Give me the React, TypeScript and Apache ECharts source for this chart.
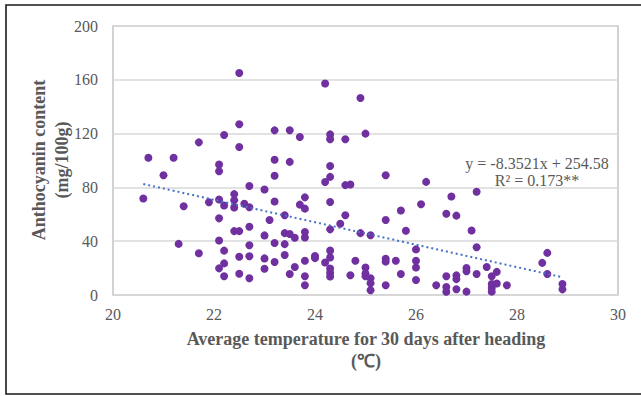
import React, { useEffect, useRef } from "react";
import * as echarts from "echarts";

const temperature: number[] = [
  20.6, 20.7, 21.0, 21.2, 21.3, 21.4, 21.7, 21.7, 21.9,
  22.1, 22.1, 22.1, 22.1, 22.1, 22.1, 22.2, 22.2, 22.2, 22.2, 22.2,
  22.4, 22.4, 22.4, 22.4, 22.5, 22.5, 22.5, 22.5, 22.5, 22.5, 22.6,
  22.7, 22.7, 22.7, 22.7, 22.7, 22.7,
  23.0, 23.0, 23.0, 23.0, 23.1, 23.2, 23.2, 23.2, 23.2, 23.2, 23.2,
  23.4, 23.4, 23.4, 23.4, 23.5, 23.5, 23.5, 23.5, 23.6, 23.6, 23.7, 23.7,
  23.8, 23.8, 23.8, 23.8, 23.8, 23.8, 23.8, 24.0, 24.0,
  24.2, 24.2, 24.2, 24.3, 24.3, 24.3, 24.3, 24.3, 24.3, 24.3, 24.3, 24.3, 24.3, 24.3,
  24.5, 24.6, 24.6, 24.6, 24.7, 24.7, 24.8, 24.9, 24.9,
  25.0, 25.0, 25.0, 25.0, 25.1, 25.1, 25.1, 25.1,
  25.4, 25.4, 25.4, 25.4, 25.4, 25.6, 25.7, 25.7, 25.8,
  26.0, 26.0, 26.0, 26.0, 26.1, 26.2, 26.4, 26.6, 26.6, 26.6, 26.6, 26.7,
  26.8, 26.8, 26.8, 26.8, 27.0, 27.0, 27.0, 27.1, 27.2, 27.2, 27.2, 27.4,
  27.5, 27.5, 27.5, 27.5, 27.6, 27.6, 27.8, 28.5, 28.6, 28.6, 28.9, 28.9,
];

const anthocyanin: number[] = [
  71.7, 102, 89, 102, 38, 66, 113.5, 31, 69,
  97, 92, 71, 57, 40.5, 19.8, 119, 66.5, 33, 23.5, 14,
  75, 70.5, 65, 47.5, 165, 127, 110, 47.5, 28.5, 15.8, 67.8,
  81, 65.2, 50.8, 37, 28.8, 12.4,
  78.5, 44.3, 27.2, 19.5, 55.8, 122.4, 100.5, 88.7, 69.5, 38.7, 24.5,
  59.3, 46, 37.8, 29.8, 122.5, 99, 45.3, 15.6, 42.6, 20.8, 117.5, 67.2,
  72.6, 64.2, 46.8, 42.8, 25.5, 13.9, 7.3, 29, 27.4,
  157.3, 84, 24.2, 119.4, 115.8, 95.9, 87.8, 69.1, 48.8, 33.1, 27.9, 19.7, 16.6, 13.7,
  53, 115.8, 81.7, 59.3, 82.1, 14.7, 25.5, 146.5, 46,
  120, 20.5, 16, 14, 44.4, 12.4, 8.8, 3.5,
  89, 55.8, 27, 24.8, 7.3, 25.5, 62.8, 15.6, 47.8,
  33.9, 25.5, 20.5, 11.2, 67.5, 84.1, 7.3, 60.4, 13.9, 6, 2.4, 73.2,
  59, 14.6, 11.8, 4.3, 20.1, 17.6, 2.5, 47.9, 76.8, 35.5, 15.6, 20.8,
  13.9, 8.2, 5.2, 2.5, 17.2, 8.6, 7.2, 23.9, 31.3, 15.6, 8.2, 4.2,
];

// Trendline end points (y = -8.3521x + 254.58)
const trendX: number[] = [20.6, 28.9];
const trendY: number[] = [82.5, 13.2];

const xTicks = { min: 20, max: 30, interval: 2 };
const yTicks = { min: 0, max: 200, interval: 40 };

const equationLines: string[] = ["y = -8.3521x + 254.58", "R² = 0.173**"];
const xTitleLines: string[] = ["Average temperature for 30 days after heading", "(℃)"];
const yTitleLines: string[] = ["Anthocyanin content", "(mg/100g)"];

const FONT = "Liberation Serif, Times New Roman, serif";
const GRAY = "#595959";

export default function App() {
  const ref = useRef<HTMLDivElement>(null);

  useEffect(() => {
    document.body.style.margin = "0";
    if (!ref.current) return;
    const chart = echarts.init(ref.current, undefined, { renderer: "svg" });

    const points = temperature.map((t, i) => [t, anthocyanin[i]]);
    const trend = trendX.map((t, i) => [t, trendY[i]]);

    const txt = (
      text: string,
      x: number,
      y: number,
      size: number,
      weight: string,
      rotation = 0
    ) => ({
      type: "text",
      x,
      y,
      rotation,
      silent: true,
      style: {
        text,
        fill: GRAY,
        fontFamily: FONT,
        fontSize: size,
        fontWeight: weight,
        textAlign: "center",
        textVerticalAlign: "middle",
      },
    });

    chart.setOption({
      animation: false,
      backgroundColor: "#ffffff",
      textStyle: { fontFamily: FONT },
      grid: {
        left: 113,
        top: 26,
        right: 23,
        bottom: 101,
        show: true,
        borderColor: "#c4c4c4",
        borderWidth: 1.5,
        containLabel: false,
      },
      xAxis: {
        type: "value",
        min: xTicks.min,
        max: xTicks.max,
        interval: xTicks.interval,
        axisLine: { show: false },
        axisTick: { show: false },
        splitLine: { show: false },
        axisLabel: {
          color: GRAY,
          fontFamily: FONT,
          fontSize: 16,
          margin: 11,
        },
      },
      yAxis: {
        type: "value",
        min: yTicks.min,
        max: yTicks.max,
        interval: yTicks.interval,
        axisLine: { show: false },
        axisTick: { show: false },
        splitLine: { show: true, lineStyle: { color: "#d9d9d9", width: 1.5 } },
        axisLabel: {
          color: GRAY,
          fontFamily: FONT,
          fontSize: 16,
          margin: 15,
        },
      },
      series: [
        {
          type: "line",
          data: trend,
          symbol: "none",
          silent: true,
          z: 3,
          lineStyle: { color: "#4472C4", width: 2, type: [2, 3] },
        },
        {
          type: "scatter",
          data: points,
          symbol: "circle",
          symbolSize: 8,
          z: 2,
          itemStyle: { color: "#7030A0", opacity: 1 },
        },
      ],
      graphic: [
        {
          type: "rect",
          silent: true,
          shape: { x: 6, y: 5, width: 650, height: 389 },
          style: { fill: "none", stroke: "#1a1a1a", lineWidth: 1.6 },
        },
        txt(equationLines[0], 537, 163, 16, "normal"),
        txt(equationLines[1], 537, 180, 16, "normal"),
        txt(xTitleLines[0], 366, 339, 18, "bold"),
        txt(xTitleLines[1], 366, 361, 18, "bold"),
        txt(yTitleLines[0], 39, 160, 18, "bold", Math.PI / 2),
        txt(yTitleLines[1], 62, 160, 18, "bold", Math.PI / 2),
      ],
    });

    return () => {
      chart.dispose();
    };
  }, []);

  return <div ref={ref} style={{ width: 641, height: 396 }} />;
}
